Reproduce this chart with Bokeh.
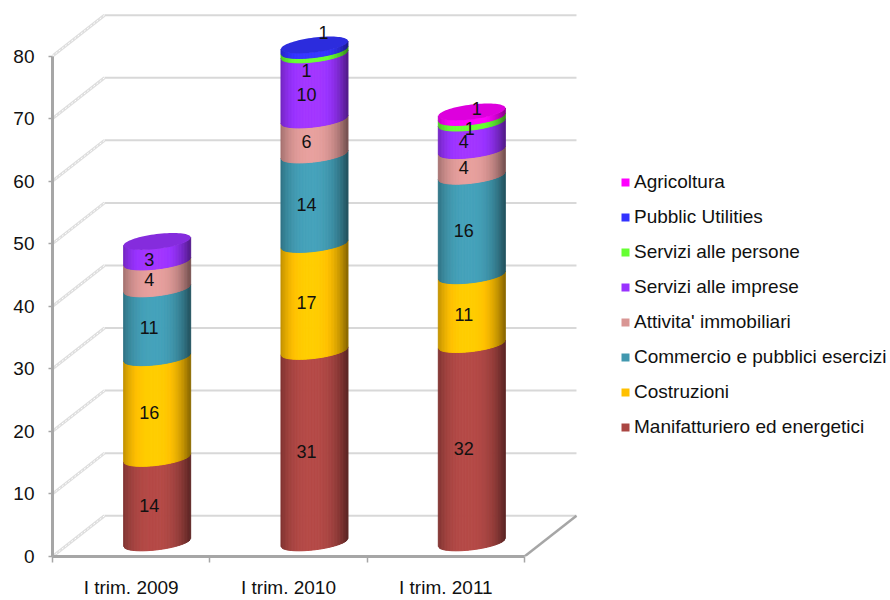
import numpy as np
from bokeh.core.properties import value
from bokeh.embed import file_html
from bokeh.models import ColumnDataSource, FixedTicker, Legend, LegendItem, LinearAxis, Range1d
from bokeh.plotting import figure
from bokeh.resources import INLINE

# ---- data (labels are the rounded values) ----
categories = ["I trim. 2009", "I trim. 2010", "I trim. 2011"]
y_ticks = [0, 10, 20, 30, 40, 50, 60, 70, 80]
manifatturiero = [13.5, 30.6, 31.7]
costruzioni = [16.1, 17.1, 11.0]
commercio = [11.0, 14.3, 15.9]
immobiliari = [4.3, 5.6, 4.1]
imprese = [3.2, 10.4, 4.4]
persone = [0, 0.7, 0.9]
utilities = [0, 0.8, 0]
agricoltura = [0, 0, 0.8]

series_names = ["Manifatturiero ed energetici", "Costruzioni", "Commercio e pubblici esercizi",
                "Attivita' immobiliari", "Servizi alle imprese", "Servizi alle persone",
                "Pubblic Utilities", "Agricoltura"]
series_values = [manifatturiero, costruzioni, commercio, immobiliari, imprese, persone, utilities, agricoltura]
series_colors = ["#AA4643", "#FFC000", "#4198AF", "#D99694", "#9933FF", "#66FF33", "#3333FF", "#FF00FF"]

# ---- layout constants (pixels) ----
W, H = 890, 600
LEFT, BOTTOM = 52, 41
PX_X, PX_Y = 157.33, 6.29        # pixels per category / per value unit
DEPTH_X, DEPTH_Y = 52 / PX_X, 41 / PX_Y   # oblique depth of the 3D box, in data units
FONT = "Liberation Sans"
GRID = "#d8d8d8"
AXIS = "#a6a6a6"
TEXT = "#111111"

p = figure(width=W, height=H, output_backend="svg", toolbar_location=None,
           x_range=Range1d(0, (W - LEFT) / PX_X), y_range=Range1d(0, (H - BOTTOM) / PX_Y),
           min_border_left=LEFT, min_border_bottom=BOTTOM, min_border_top=0, min_border_right=0,
           x_axis_type=None, y_axis_type=None, outline_line_color=None)
p.grid.visible = False

# ---- axes ----
yax = LinearAxis(ticker=FixedTicker(ticks=y_ticks), bounds=(0, 80))
yax.axis_line_color = AXIS; yax.axis_line_width = 3
yax.major_tick_line_color = AXIS; yax.major_tick_line_width = 1.5
yax.major_tick_out = 4; yax.major_tick_in = 0; yax.minor_tick_line_color = None
yax.major_label_standoff = 14
yax.major_label_text_font = FONT; yax.major_label_text_font_size = "19px"
yax.major_label_text_color = TEXT
p.add_layout(yax, "left")

n = len(categories)
xax = LinearAxis(ticker=FixedTicker(ticks=[i + 0.5 for i in range(n)], minor_ticks=list(range(n + 1))),
                 bounds=(0, n))
xax.major_label_overrides = {i + 0.5: c for i, c in enumerate(categories)}
xax.axis_line_color = AXIS; xax.axis_line_width = 3
xax.major_tick_line_color = None; xax.major_tick_out = 0; xax.major_tick_in = 0
xax.minor_tick_line_color = AXIS; xax.minor_tick_line_width = 1.5
xax.minor_tick_out = 6; xax.minor_tick_in = 0
xax.major_label_standoff = 14
xax.major_label_text_font = FONT; xax.major_label_text_font_size = "19px"
xax.major_label_text_color = TEXT
p.add_layout(xax, "below")

# ---- 3D box: back wall gridlines, hatched side wall, floor ----
for t in y_ticks:
    p.line([DEPTH_X, n + DEPTH_X], [t + DEPTH_Y] * 2, line_color=GRID, line_width=2)
    p.line([0, DEPTH_X], [t, t + DEPTH_Y], line_color="#dedede", line_width=3)
    p.line([0, DEPTH_X], [t, t + DEPTH_Y], line_color="#ffffff", line_width=1, line_dash="2 2")
p.line([n, n + DEPTH_X], [0, DEPTH_Y], line_color=AXIS, line_width=2.5)

# ---- cylinders ----
HW = 33.5 / PX_X
B = 7.5 / PX_Y
K = 4.0 / PX_Y
BASE = DEPTH_Y / 2 - 1.0     # floor-centre of each cylinder
CX = DEPTH_X / 2 + 0.5
STRIPS = 45


def shade(hexcol, f):
    rgb = [int(hexcol[i:i + 2], 16) for i in (1, 3, 5)]
    return "#%02x%02x%02x" % tuple(int(min(255, max(0, c * f))) for c in rgb)


def front(u, level):
    return level + BASE - B * np.sqrt(np.clip(1 - u * u, 0, 1)) + K * u


edges = np.linspace(-1, 1, STRIPS + 1)
xs, ys, cols = [], [], []
totals = np.zeros(n)
labels_x, labels_y, labels_t, off_x, off_y = [], [], [], [], []
special = {(1, 5): (-8, 18), (1, 6): (9, -15), (2, 5): (-2, 9), (2, 7): (5, -6), (1, 4): (-8, 8), (0, 4): (-8, 8)}
for s, (vals, col) in enumerate(zip(series_values, series_colors)):
    for i, v in enumerate(vals):
        if v == 0:
            continue
        c = i + CX
        y0, y1 = totals[i], totals[i] + v
        for j in range(STRIPS):
            u0, u1 = edges[j], edges[j + 1]
            um = (u0 + u1) / 2
            f = 1.07 - 0.42 * abs(um + 0.1) ** 2.6
            xs.append([c + HW * u0, c + HW * u1, c + HW * u1, c + HW * u0])
            ys.append([front(u0, y0), front(u1, y0), front(u1, y1), front(u0, y1)])
            cols.append(shade(col, f))
        totals[i] = y1
        dx, dy = special.get((i, s), (-8, 5))
        labels_x.append(c); labels_y.append((y0 + y1) / 2 + BASE)
        labels_t.append(str(int(round(v)))); off_x.append(dx); off_y.append(dy)

p.patches(xs=xs, ys=ys, fill_color=cols, line_color=cols, line_width=1)

# top faces of the stacks
tt = np.linspace(0, 2 * np.pi, 80)
for i in range(n):
    top_s = max(s for s, vals in enumerate(series_values) if vals[i] > 0)
    c = i + CX
    ex = c + HW * np.cos(tt)
    ey = totals[i] + BASE + B * np.sin(tt) + K * np.cos(tt)
    p.patch(ex, ey, fill_color=shade(series_colors[top_s], 0.87), line_color=None)

# ---- value labels ----
src = ColumnDataSource(dict(x=labels_x, y=labels_y, t=labels_t, dx=off_x, dy=off_y))
p.text(x="x", y="y", text="t", x_offset="dx", y_offset="dy", source=src, text_align="center",
       text_baseline="middle", text_font=value(FONT), text_font_size=value("18px"), text_color=TEXT)

# ---- legend ----
items = []
nan = float("nan")
for name, col in zip(reversed(series_names), reversed(series_colors)):
    r = p.quad(left=[nan], right=[nan], top=[nan], bottom=[nan], fill_color=col, line_color=None)
    items.append(LegendItem(label=name, renderers=[r]))
legend = Legend(items=items, location=(568, 118), orientation="vertical",
                border_line_color=None, background_fill_alpha=0, padding=0, margin=0,
                glyph_width=10, glyph_height=10, label_standoff=4, spacing=13,
                label_height=20, label_text_font=FONT, label_text_font_size="19px",
                label_text_color=TEXT)
p.add_layout(legend, "center")

open("out.html", "w").write(file_html(p, INLINE))
